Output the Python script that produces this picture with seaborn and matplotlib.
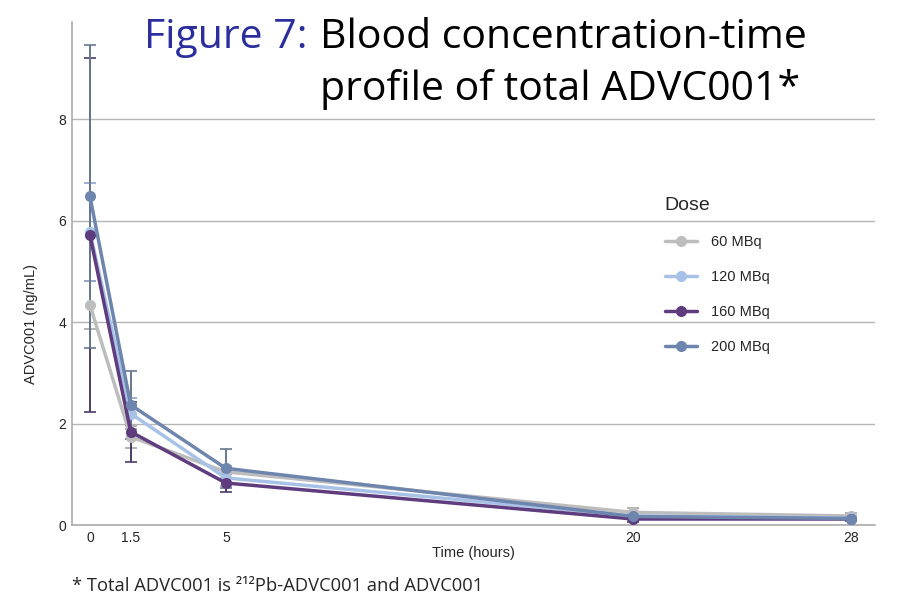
import numpy as np
import pandas as pd
import matplotlib.pyplot as plt
import seaborn as sns

# valores (média e desvio)
time_h = [0, 1.5, 5, 20, 28]
doses = ['60 MBq', '120 MBq', '160 MBq', '200 MBq']

conc_60 = [4.34, 1.74, 1.05, 0.25, 0.18]
conc_120 = [5.78, 2.20, 0.93, 0.18, 0.14]
conc_160 = [5.72, 1.84, 0.83, 0.12, 0.12]
conc_200 = [6.48, 2.37, 1.12, 0.17, 0.13]

sd_60 = [0.48, 0.22, 0.12, 0.08, 0.05]
sd_120 = [0.96, 0.30, 0.15, 0.06, 0.04]
sd_160 = [3.49, 0.59, 0.17, 0.05, 0.04]
sd_200 = [2.99, 0.67, 0.38, 0.06, 0.05]

line_colors = ['#BDBDBD', '#A7C2E6', '#5E3C7E', '#6E85AD']
err_colors = ['#A5A5A5', '#8EA6C8', '#4F3C6C', '#66788F']

concs = [conc_60, conc_120, conc_160, conc_200]
sds = [sd_60, sd_120, sd_160, sd_200]

df = pd.DataFrame({
    'Time': np.tile(time_h, len(doses)),
    'Conc': np.concatenate(concs),
    'SD': np.concatenate(sds),
    'Dose': np.repeat(doses, len(time_h)),
})

sns.set_style('white')
plt.rcParams['font.family'] = ['Liberation Sans', 'DejaVu Sans']

fig = plt.figure(figsize=(9, 6.12), dpi=100)
ax = fig.add_axes([0.08, 0.142, 0.892, 0.822])

# barras de erro primeiro, linhas por cima
for dose, col in zip(doses, err_colors):
    sub = df[df['Dose'] == dose]
    ax.errorbar(sub['Time'], sub['Conc'], yerr=sub['SD'], fmt='none',
                ecolor=col, elinewidth=1.4, capsize=4, capthick=1.2, zorder=2)

sns.lineplot(data=df, x='Time', y='Conc', hue='Dose', hue_order=doses,
             palette=dict(zip(doses, line_colors)), marker='o', markersize=8,
             markeredgewidth=0, linewidth=2.5, ax=ax, zorder=3)

ax.set_xlim(-0.66, 28.88)
ax.set_ylim(0, 9.92)
ax.set_xticks(time_h)
ax.set_xticklabels(['0', '1.5', '5', '20', '28'], fontsize=10)
ax.set_yticks([0, 2, 4, 6, 8])
ax.set_yticklabels(['0', '2', '4', '6', '8'], fontsize=10)
ax.tick_params(length=0, pad=4)
ax.grid(axis='y', color='#B5B5B5', linewidth=1)
ax.set_axisbelow(True)
for s in ['top', 'right']:
    ax.spines[s].set_visible(False)
for s in ['left', 'bottom']:
    ax.spines[s].set_color('#ABABAB')
    ax.spines[s].set_linewidth(1.2)

ax.set_xlabel('Time (hours)', fontsize=10.5, labelpad=1)
ax.set_ylabel('ADVC001 (ng/mL)', fontsize=10.5)
ax.yaxis.set_label_coords(-0.042, 0.40)

leg = ax.legend(title='Dose', loc='upper left', bbox_to_anchor=(0.724, 0.70),
                bbox_transform=fig.transFigure, frameon=False, fontsize=10.5,
                title_fontsize=14, labelspacing=1.45, handlelength=2.2,
                handletextpad=1.0)
leg._legend_box.align = 'left'

# título
tfont = ['Open Sans', 'DejaVu Sans']
fig.text(0.342, 1 - 48 / 612, 'Figure 7:', color='#2B2E9C', fontsize=29.5,
         ha='right', va='baseline', family=tfont)
fig.text(0.356, 1 - 48 / 612, 'Blood concentration-time', color='black',
         fontsize=29.5, ha='left', va='baseline', family=tfont)
fig.text(0.356, 1 - 100 / 612, 'profile of total ADVC001*', color='black',
         fontsize=29.5, ha='left', va='baseline', family=tfont)

fig.text(0.08, 1 - 591 / 612, '* Total ADVC001 is \u00b2\u00b9\u00b2Pb-ADVC001 and ADVC001',
         fontsize=13.2, ha='left', va='baseline', family=tfont)

plt.savefig('out.png', dpi=100)
